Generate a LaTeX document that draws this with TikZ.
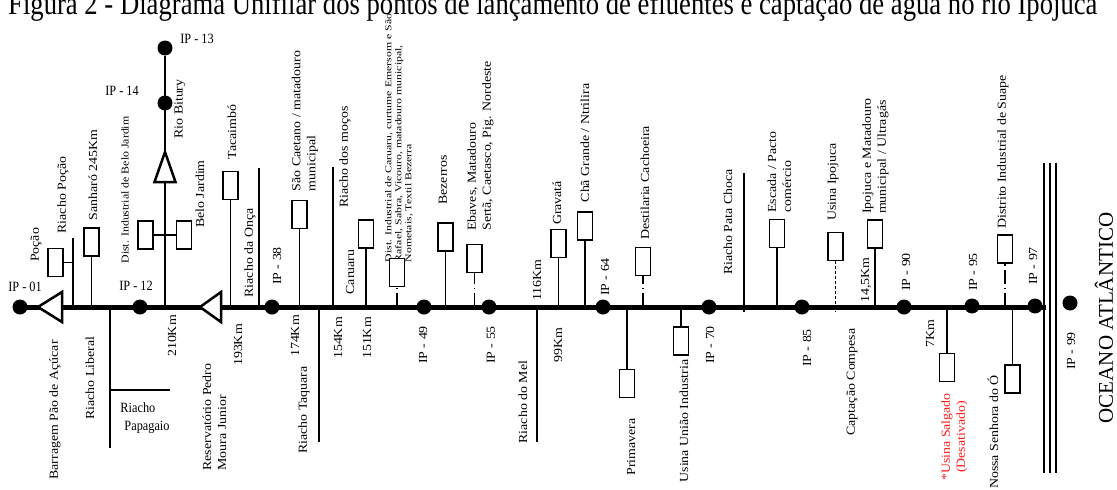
\documentclass[tikz,border=0pt]{standalone}
\usepackage{fontspec}
\setmainfont{Liberation Serif}
\usepackage{xcolor}
\definecolor{salgadored}{HTML}{FF1A1A}

\begin{document}
\begin{tikzpicture}[x = 1pt, y = -1pt,
    trunk/.style = {line width = 5pt},
    link/.style = {line width = 1.3pt},
    dashlink/.style = {line width = 1.3pt, dash pattern = on 14pt off 4pt on 1.5pt off 4pt},
    thinlink/.style = {line width = 0.7pt, dash pattern = on 3pt off 2pt},
    outlet/.style = {draw, fill = white, rectangle, line width = 1.7pt, minimum width = 15pt, minimum height = 28pt, inner sep = 0pt},
    ipdot/.style = {circle, fill = black, minimum size = 15pt, inner sep = 0pt},
    dam/.style = {draw, fill = white, line width = 2.5pt, line join = miter},
    coast/.style = {line width = 2.5pt},
    vtext/.style = {rotate = 90, xscale = 1.13, inner sep = 0pt, align = left, font = \fontsize{12.3}{15}\selectfont},
    htext/.style = {inner sep = 0pt, align = center, yscale = 1.15, font = \fontsize{12.3}{15}\selectfont}]

        \useasboundingbox (0, 0) rectangle (1117, 490);

        \node [anchor = base west, inner sep = 0pt, yscale = 1.2] (title) at (8, 14) {\resizebox{1089pt}{!}{Figura 2 - Diagrama Unifilar dos pontos de lançamento de efluentes e captação de água no rio Ipojuca}};

        % IP points
        \node [ipdot] (ip01) at (20, 307) {};
        \node [ipdot] (ip12) at (140, 307) {};
        \node [ipdot] (ip13) at (165, 48) {};
        \node [ipdot] (ip14) at (165, 103) {};
        \node [ipdot] (ip38) at (272, 307) {};
        \node [ipdot] (ip49) at (424, 307) {};
        \node [ipdot] (ip55) at (489, 307) {};
        \node [ipdot] (ip64) at (603, 307) {};
        \node [ipdot] (ip70) at (709, 307) {};
        \node [ipdot] (ip85) at (802, 307) {};
        \node [ipdot] (ip90) at (904, 307) {};
        \node [ipdot] (ip95) at (972, 306) {};
        \node [ipdot] (ip97) at (1035, 306) {};
        \node [ipdot] (ip99) at (1070, 303) {};

        % Rio Ipojuca and Rio Bitury
        \coordinate (mouth) at (1046, 307);
        \draw [trunk] (ip01.center) -- (mouth);
        \draw [link, line width = 1.5pt] (ip13) -- (ip13 |- ip01);

        \coordinate (barragem) at (38, 307);
        \draw [dam] (barragem) -- ++(24, -15) -- ++(0, 30) -- cycle;
        \coordinate (reservatorio) at (200, 307);
        \draw [dam] (reservatorio) -- ++(21, -15) -- ++(0, 30) -- cycle;
        \coordinate (bituryres) at (165, 152);
        \draw [dam] (bituryres) -- ++(-10.5, 30) -- ++(21, 0) -- cycle;

        \foreach \cx in {1044, 1050, 1056}
            \draw [coast] (\cx, 163) -- (\cx, 473);

        % Tributaries
        \coordinate (rpocao) at (73, 238);
        \draw [link] (rpocao) -- (rpocao |- ip01);
        \coordinate (papagaio) at (110, 448);
        \draw [link] (papagaio |- ip01) -- (papagaio);
        \coordinate (papagaioarm) at (170, 390);
        \draw [link] (papagaioarm -| papagaio) -- (papagaioarm);
        \coordinate (onca) at (259, 168);
        \draw [link] (onca) -- (onca |- ip01);
        \coordinate (taquara) at (319, 442);
        \draw [link] (taquara |- ip01) -- (taquara);
        \coordinate (mocos) at (333, 167);
        \draw [link] (mocos) -- (mocos |- ip01);
        \coordinate (mel) at (537, 442);
        \draw [link] (mel |- ip01) -- (mel);
        \coordinate (patachoca) at (744, 173);
        \draw [link] (patachoca) -- (patachoca |- ip01) -- ++(0, 5);

        % Labels
        \node [htext] (ip01label) at (25, 287) {IP - 01};
        \node [htext] (ip12label) at (136, 286) {IP - 12};
        \node [htext] (ip13label) at (197, 39) {IP - 13};
        \node [htext] (ip14label) at (122, 91) {IP - 14};
        \node [htext, align = left, font = \fontsize{12.3}{15}\selectfont] (papagaiolabel) at (145, 418) {Riacho\\\hspace{4pt}Papagaio};

        \node [vtext] (pocaolabel) at (36, 245) {Poção};
        \node [vtext] (rpocaolabel) at (63, 195) {Riacho Poção};
        \node [vtext] (sanharolabel) at (93, 175) {Sanharó 245Km};
        \node [vtext, font = \fontsize{10.5}{12}\selectfont] (bjdistlabel) at (125, 190) {Dist. Industrial de Belo Jardim};
        \node [vtext] (biturylabel) at (180, 109) {Rio Bitury};
        \node [vtext] (bjardimlabel) at (200, 194) {Belo Jardim};
        \node [vtext] (tacaimbolabel) at (232, 132) {Tacaimbó};
        \node [vtext] (oncalabel) at (250, 253) {Riacho da Onça};
        \node [vtext] (ip38label) at (277, 266) {IP - 38};
        \node [vtext] (caetanolabel) at (305, 121) {São Caetano / matadouro\\municipal};
        \node [vtext] (mocoslabel) at (345, 157) {Riacho dos moços};
        \node [vtext] (caruarulabel) at (350, 272) {Caruaru};
        \node [vtext, xscale = 1.16, font = \fontsize{9}{10}\selectfont] (distcaruarulabel) at (399, 138) {Dist. Industrial de Caruaru, curtume Emersom e São\\Rafael, Sabra, Vicouro, matadouro municipal,\\Nometais, Textil Bezerra};
        \node [vtext] (bezerroslabel) at (443, 180) {Bezerros};
        \node [vtext] (ebaveslabel) at (480.5, 146) {Ebaves, Matadouro\\Sertã, Caetasco, Pig. Nordeste};
        \node [vtext] (kmmellabel) at (537, 280) {116Km};
        \node [vtext] (gravatalabel) at (557, 203) {Gravatá};
        \node [vtext] (chagrandelabel) at (585, 143) {Chã Grande / Ntrilira};
        \node [vtext] (ip64label) at (605, 277) {IP - 64};
        \node [vtext] (destilarialabel) at (645, 183) {Destilaria Cachoeira};
        \node [vtext] (patachocalabel) at (728, 222) {Riacho Pata Choca};
        \node [vtext] (escadalabel) at (779.5, 172) {Escada / Pacto\\comércio};
        \node [vtext] (usinaipojucalabel) at (833, 182) {Usina Ipojuca};
        \node [vtext] (matadourolabel) at (875.5, 156) {Ipojuca e Matadouro\\municipal / Ultragás};
        \node [vtext] (kmmatadourolabel) at (866, 280) {14,5Km};
        \node [vtext] (ip90label) at (906, 272) {IP - 90};
        \node [vtext] (ip95label) at (973, 272) {IP - 95};
        \node [vtext] (suapelabel) at (1003, 152) {Distrito Industrial de Suape};
        \node [vtext] (ip97label) at (1033, 266) {IP - 97};

        \node [vtext] (barragemlabel) at (55, 410) {Barragem Pão de Açúcar};
        \node [vtext] (liberallabel) at (90, 378) {Riacho Liberal};
        \node [vtext] (kmbituryllabel) at (172, 336) {210Km};
        \node [vtext] (reservatoriolabel) at (214.5, 417) {Reservatório Pedro\\Moura Junior};
        \node [vtext] (kmreslabel) at (238, 345) {193Km};
        \node [vtext] (kmcaetanolabel) at (295, 336) {174Km};
        \node [vtext] (taquaralabel) at (304, 410) {Riacho Taquara};
        \node [vtext] (kmmocoslabel) at (338, 338) {154Km};
        \node [vtext] (kmcaruarulabel) at (367, 338) {151Km};
        \node [vtext] (ip49label) at (423, 345) {IP - 49};
        \node [vtext] (ip55label) at (491, 345) {IP - 55};
        \node [vtext] (mellabel) at (523, 402) {Riacho do Mel};
        \node [vtext] (kmgravatalabel) at (558, 345) {99Km};
        \node [vtext] (primaveralabel) at (631, 447) {Primavera};
        \node [vtext] (uniaolabel) at (684, 421) {Usina União Industria};
        \node [vtext] (ip70label) at (710, 345) {IP - 70};
        \node [vtext] (ip85label) at (807, 348) {IP - 85};
        \node [vtext] (compesalabel) at (852, 382) {Captação Compesa};
        \node [vtext] (kmsalgadolabel) at (930, 334) {7Km};
        \node [vtext, align = center, text = salgadored] (salgadolabel) at (954.5, 437) {*Usina Salgado\\(Desativado)};
        \node [vtext] (senhoralabel) at (993, 432) {Nossa Senhora do Ó};
        \node [vtext] (ip99label) at (1071, 351) {IP - 99};
        \node [rotate = 90, inner sep = 0pt, font = \fontsize{21}{21}\selectfont] (oceano) at (1104, 318) {OCEANO ATLÂNTICO};

        % Discharge points
        \node [outlet] (pocao) at (55.5, 262.5) {};
        \draw [link] (pocao.east) -- (pocao.east -| rpocao);
        \node [outlet] (sanharo) at (91.5, 242) {};
        \draw [link] (sanharo.south) -- (sanharo.south |- ip01);
        \node [outlet] (bjdist) at (145.5, 235) {};
        \node [outlet] (bjardim) at (184, 235) {};
        \draw [link] (bjdist) -- (bjardim);
        \node [outlet] (tacaimbo) at (230.5, 185.5) {};
        \draw [link] (tacaimbo.south) -- (tacaimbo.south |- ip01);
        \node [outlet] (caetano) at (299.5, 214.5) {};
        \draw [link] (caetano.south) -- (caetano.south |- ip01);
        \node [outlet] (caruaru) at (366, 234) {};
        \draw [link] (caruaru.south) -- (caruaru.south |- ip01);
        \node [outlet] (distcaruaru) at (397, 272.5) {};
        \draw [dashlink] (distcaruaru.south |- ip01) -- (distcaruaru.south);
        \node [outlet] (bezerros) at (445.5, 237) {};
        \draw [link] (bezerros.south) -- (bezerros.south |- ip01);
        \node [outlet] (ebaves) at (474.5, 258.5) {};
        \draw [dashlink] (ebaves.south |- ip01) -- (ebaves.south);
        \node [outlet] (gravata) at (558.5, 243.5) {};
        \draw [link] (gravata.south) -- (gravata.south |- ip01);
        \node [outlet] (chagrande) at (585, 226) {};
        \draw [link] (chagrande.south) -- (chagrande.south |- ip01);
        \node [outlet] (primavera) at (627, 383.5) {};
        \draw [link] (primavera.north |- ip01) -- (primavera.north);
        \node [outlet] (destilaria) at (643, 261.5) {};
        \draw [dashlink] (destilaria.south |- ip01) -- (destilaria.south);
        \node [outlet] (uniao) at (681, 341) {};
        \draw [link] (uniao.north |- ip01) -- (uniao.north);
        \node [outlet] (escada) at (777, 233.5) {};
        \draw [link] (escada.south) -- (escada.south |- ip01);
        \node [outlet] (usinaipojuca) at (835.5, 246.5) {};
        \draw [thinlink] (usinaipojuca.south) -- (usinaipojuca.south |- ip01) -- ++(0, 5);
        \node [outlet] (matadouro) at (875, 234) {};
        \draw [link] (matadouro.south) -- (matadouro.south |- ip01);
        \node [outlet] (salgado) at (947, 367.5) {};
        \draw [link] (salgado.north |- ip01) -- (salgado.north);
        \node [outlet] (suape) at (1005, 249) {};
        \draw [dashlink] (suape.south |- ip01) -- (suape.south);
        \node [outlet] (senhora) at (1012.5, 379) {};
        \draw [link] (senhora.north |- ip01) -- (senhora.north);

    \end{tikzpicture}
\end{document}
